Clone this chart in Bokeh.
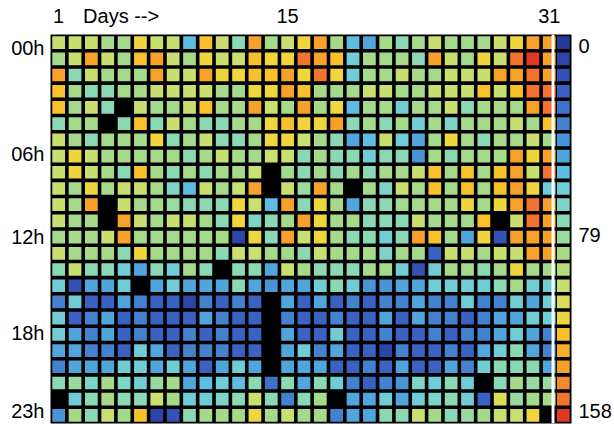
from bokeh.plotting import figure
from bokeh.models import (LinearColorMapper, FixedTicker, LinearAxis, Range1d,
                          BoxAnnotation, ColumnDataSource)
from bokeh.transform import transform
from bokeh.embed import file_html
from bokeh.resources import INLINE

# ---------------- data ----------------
days = list(range(1, 32))
N = None  # missing reading (drawn black)

h00 = [101, 101, 101, 88, 88, 115, 101, 101, 55, 122, 101, 73, 135, 88, 101, 115, 135, 88, 55, 49, 88, 73, 88, 101, 88, 88, 88, 101, 115, 135, 135]
h01 = [88, 101, 135, 101, 88, 122, 135, 101, 88, 115, 101, 101, 122, 115, 115, 147, 135, 122, 62, 88, 88, 88, 73, 135, 101, 88, 115, 101, 147, 156, 135]
h02 = [135, 73, 101, 88, 88, 88, 135, 101, 101, 135, 115, 115, 122, 122, 135, 115, 150, 115, 62, 88, 88, 101, 88, 88, 101, 101, 101, 135, 135, 147, 135]
h03 = [122, 88, 73, 73, 88, 88, 101, 101, 101, 101, 88, 88, 115, 115, 135, 122, 88, 88, 88, 101, 101, 88, 88, 101, 101, 101, 122, 101, 122, 147, 147]
h04 = [122, 88, 101, 73, N, 101, 88, 88, 101, 122, 88, 88, 135, 101, 88, 135, 88, 115, 58, 88, 88, 62, 88, 88, 101, 73, 88, 88, 88, 135, 147]
h05 = [73, 88, 88, N, 73, 122, 73, 101, 88, 73, 73, 88, 88, 115, 122, 115, 115, 135, 73, 88, 73, 88, 62, 88, 66, 88, 88, 88, 101, 88, 122]
h06 = [101, 88, 73, 88, 88, 88, 115, 73, 88, 101, 73, 73, 88, 115, 115, 101, 88, 73, 49, 58, 101, 62, 52, 88, 115, 88, 73, 88, 88, 101, 88]
h07 = [101, 115, 101, 88, 88, 88, 88, 88, 73, 88, 101, 88, 88, 101, 101, 73, 88, 73, 73, 62, 73, 73, 45, 88, 73, 88, 88, 88, 135, 115, 135]
h08 = [101, 115, 101, 88, 73, 122, 88, 73, 88, 73, 88, 88, 101, N, 88, 73, 88, 73, 88, 73, 88, 88, 101, 122, 88, 122, 88, 122, 135, 101, 147]
h09 = [101, 88, 115, 88, 101, 101, 88, 66, 55, 101, 88, 101, 135, N, 101, 80, 135, 88, N, 88, 66, 101, 88, 122, 88, 122, 88, 122, 135, 115, 62]
h10 = [101, 88, 135, N, 101, 88, 88, 80, 73, 73, 76, 115, 101, 58, 135, 73, 115, 88, 49, 73, 73, 88, 88, 88, 88, 115, 88, 115, 135, 147, 135]
h11 = [101, 88, 88, N, 135, 101, 88, 101, 101, 88, 73, 118, 66, 73, 88, 135, 115, 88, 88, 73, 73, 73, 101, 88, 88, 88, 122, N, 101, 147, 135]
h12 = [88, 88, 88, 101, 135, 88, 88, 88, 88, 88, 88, 8, 115, 73, 135, 101, 115, 88, 73, 73, 62, 73, 135, 122, 88, 49, 115, 15, 135, 135, 135]
h13 = [101, 88, 88, 88, 73, 115, 88, 88, 88, 88, 73, 101, 101, 88, 88, 73, 101, 88, 88, 88, 66, 88, 88, 22, 101, 101, 88, 101, 101, 135, 135]
h14 = [73, 101, 73, 73, 62, 49, 73, 62, 88, 73, N, 73, 73, 49, 101, 88, 73, 73, 73, 88, 88, 62, 18, 62, 88, 88, 73, 88, 115, 88, 88]
h15 = [62, 15, 49, 49, 62, N, 49, 62, 49, 49, 49, 73, 49, 45, 49, 49, 62, 73, 62, 45, 45, 49, 49, 62, 62, 62, 62, 73, 88, 62, 62]
h16 = [35, 62, 22, 22, 49, 35, 22, 22, 12, 35, 22, 35, 22, N, 49, 22, 49, 22, 35, 22, 35, 35, 49, 35, 35, 62, 35, 35, 62, 49, 62]
h17 = [62, 22, 35, 49, 22, 35, 22, 22, 22, 49, 35, 22, 22, N, 35, 22, 22, 35, 22, 22, 49, 22, 49, 35, 35, 22, 35, 49, 49, 62, 62]
h18 = [62, 49, 35, 49, 22, 35, 22, 22, 35, 22, 35, 22, 22, N, 49, 22, 22, 62, 22, 22, 35, 22, 22, 35, 22, 35, 35, 49, 62, 49, 35]
h19 = [49, 49, 35, 35, 22, 62, 49, 22, 35, 35, 35, 22, 22, N, 49, 62, 35, 49, 22, 22, 12, 35, 22, 22, 35, 22, 49, 62, 73, 49, 35]
h20 = [35, 49, 49, 49, 62, 62, 49, 62, 49, 22, 49, 62, 49, N, 49, 49, 49, 22, 22, 35, 22, 49, 22, 22, 49, 35, 62, 73, 73, 73, 49]
h21 = [73, 80, 68, 88, 68, 62, 80, 88, 52, 55, 62, 55, 76, 28, 76, 49, 73, 62, 35, 22, 35, 45, 66, 62, 73, 62, N, 73, 88, 80, 80]
h22 = [N, 62, 73, 88, 73, 73, 101, 88, 62, 62, 70, 73, 101, 73, 35, 73, 88, N, 52, 49, 62, 49, 62, 66, 73, 62, 25, 108, 80, 88, 92]
h23 = [45, 88, 73, 101, 88, 122, 12, 15, 73, 88, 88, 88, 115, 88, 101, 88, 88, 35, 49, 49, 73, 73, 101, 88, 73, 80, 88, 101, 101, 115, N]

hour_rows = [h00, h01, h02, h03, h04, h05, h06, h07, h08, h09, h10, h11,
             h12, h13, h14, h15, h16, h17, h18, h19, h20, h21, h22, h23]

value_low, value_high = 0, 158
palette = ["#283a98", "#2d45a6", "#3352b4", "#3a62c2", "#3e72c8", "#4282cf",
           "#4894d6", "#4fa5dc", "#5ebde0", "#70cdd6", "#7ed4c6", "#8bd8b5",
           "#98daa0", "#a6da8b", "#b8dc7c", "#c9df6f", "#dcdc58", "#f0d63e",
           "#f8c02a", "#f8ae2a", "#f7a02a", "#f38a2c", "#f07430", "#e03a26"]

hour_ticks = [0.35, 6.85, 12.0, 17.9, 22.75]
hour_labels = ["00h", "06h", "12h", "18h", "23h"]
day_ticks = [1, 4.82, 15, 31]
day_labels = ["1", "Days -->", "15", "31"]
scale_ticks = [0.2, 11.9, 22.75]
scale_labels = ["0", "79", "158"]

# ---------------- build ----------------
xs, ys, vs = [], [], []
for hr, row in enumerate(hour_rows):
    for d, v in zip(days, row):
        if v is not None:
            xs.append(d)
            ys.append(hr)
            vs.append(v)
source = ColumnDataSource(dict(day=xs, hour=ys, value=vs))
mapper = LinearColorMapper(palette=palette, low=value_low, high=value_high)

FONT = "Liberation Sans"
FSIZE = "20px"
cell = 0.78
cbar_x = len(days) + 0.86

p = figure(width=614, height=424,
           x_range=Range1d(0.5, len(days) + 1.36),
           y_range=Range1d(len(hour_rows) - 0.5, -0.5),
           output_backend="svg", toolbar_location=None,
           x_axis_location=None, y_axis_location=None,
           min_border_left=50, min_border_right=40,
           min_border_top=34, min_border_bottom=1)
p.background_fill_color = "black"
p.border_fill_color = "white"
p.outline_line_color = None
p.xgrid.visible = False
p.ygrid.visible = False

p.rect(x="day", y="hour", width=cell, height=cell, source=source,
       fill_color=transform("value", mapper), line_color=None)

# separator and colour scale column
p.add_layout(BoxAnnotation(left=len(days) + 0.14, right=len(days) + 0.32,
                           fill_color="white", fill_alpha=1.0, line_color=None))
p.rect(x=[cbar_x] * len(palette), y=list(range(len(palette))), width=cell,
       height=cell, fill_color=palette, line_color=None)


def style(ax):
    ax.axis_line_color = None
    ax.major_tick_line_color = None
    ax.minor_tick_line_color = None
    ax.major_tick_out = 0
    ax.major_tick_in = 0
    ax.major_label_text_font = FONT
    ax.major_label_text_font_size = FSIZE
    ax.major_label_text_color = "black"
    ax.major_label_standoff = 6


left = LinearAxis(ticker=FixedTicker(ticks=hour_ticks),
                  major_label_overrides=dict(zip(hour_ticks, hour_labels)))
style(left)
p.add_layout(left, "left")

right = LinearAxis(ticker=FixedTicker(ticks=scale_ticks),
                   major_label_overrides=dict(zip(scale_ticks, scale_labels)))
style(right)
right.major_label_standoff = 7
p.add_layout(right, "right")

top = LinearAxis(ticker=FixedTicker(ticks=day_ticks),
                 major_label_overrides=dict(zip(day_ticks, day_labels)))
style(top)
top.major_label_standoff = 8
p.add_layout(top, "above")

open("out.html", "w").write(file_html(p, INLINE))
